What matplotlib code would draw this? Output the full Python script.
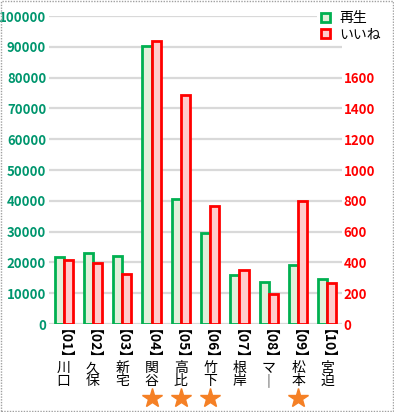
import numpy as np
import matplotlib.pyplot as plt
from matplotlib.patches import Patch, Rectangle

plt.rcParams['font.family'] = ['Noto Sans CJK JP', 'DejaVu Sans']

# data
codes = ['01', '02', '03', '04', '05', '06', '07', '08', '09', '10']
names = ['川口', '久保', '新宅', '関谷', '高比', '竹下', '根岸', 'マー', '松本', '宮迫']
plays = [21800, 23200, 22200, 90300, 40600, 29400, 15800, 13500, 19000, 14700]
likes = [417, 393, 322, 1840, 1484, 767, 352, 196, 797, 268]
starred = [False, False, False, True, True, True, False, False, True, False]

green = '#00B050'
green_fill = '#E2EFDA'
red = '#FF0000'
red_fill = '#FFCCCC'

def main():
    fig = plt.figure(figsize=(3.94, 4.12), dpi=100)
    ax = fig.add_axes([49/394, 1 - 324/412, (342 - 49)/394, (324 - 16)/412])
    ax2 = ax.twinx()

    x = np.arange(len(codes))
    w = 0.31
    ax.bar(x - w/2, plays, w, facecolor=green_fill, edgecolor=green, linewidth=2, zorder=3)
    ax2.bar(x + w/2, likes, w, facecolor=red_fill, edgecolor=red, linewidth=2, zorder=3)

    ax.set_xlim(-0.5, len(codes) - 0.5)
    ax.set_ylim(0, 100000)
    ax2.set_ylim(0, 2000)
    ax.set_yticks(np.arange(0, 100001, 10000))
    ax2.set_yticks(np.arange(0, 1601, 200))
    ax.grid(axis='y', color='#D9D9D9', linewidth=1.6, zorder=0)
    ax.set_axisbelow(True)

    for a in (ax, ax2):
        for s in a.spines.values():
            s.set_visible(False)
    ax.tick_params(axis='y', length=0, pad=2, labelsize=9.5, labelcolor='#00966E')
    ax2.tick_params(axis='y', length=0, pad=1, labelsize=9.5, labelcolor=red)
    for t in ax.get_yticklabels() + ax2.get_yticklabels():
        t.set_fontweight('bold')
    ax.set_xticks([])

    # vertical category labels: rotated code on top, upright kanji below it
    for i in range(len(codes)):
        ax.annotate('【' + codes[i] + '】', xy=(x[i], 0), xycoords=('data', 'axes fraction'),
                    xytext=(-11, -5), textcoords='offset pixels', rotation=-90,
                    rotation_mode='anchor', ha='left', va='baseline',
                    fontsize=10, fontweight='bold')
        nm = names[i].replace('ー', '｜')
        ax.annotate('\n'.join(nm), xy=(x[i], 0), xycoords=('data', 'axes fraction'),
                    xytext=(0, -37), textcoords='offset pixels',
                    ha='center', va='top', fontsize=10, linespacing=0.95)
        if starred[i]:
            ax.plot(x[i], -0.240, marker='*', markersize=15, color='#F58025',
                    transform=ax.get_xaxis_transform(), clip_on=False)

    handles = [Patch(facecolor=green_fill, edgecolor=green, linewidth=2, label='再生'),
               Patch(facecolor=red_fill, edgecolor=red, linewidth=2, label='いいね')]
    leg = fig.legend(handles=handles, loc='upper right', bbox_to_anchor=(0.995, 1.0),
                     frameon=True, fontsize=10, handlelength=0.6, handleheight=0.6,
                     handletextpad=0.7, labelspacing=0.15, borderpad=0.3)
    leg.get_frame().set_edgecolor('none')
    leg.get_frame().set_facecolor('white')
    leg.get_frame().set_alpha(1)

    fig.patches.append(Rectangle((0.002, 0.002), 0.996, 0.996, transform=fig.transFigure,
                                 fill=False, edgecolor='#A0A0A0', linestyle=(0, (1, 1)),
                                 linewidth=1))

    fig.savefig('out.png', dpi=100)

if __name__ == '__main__':
    main()
